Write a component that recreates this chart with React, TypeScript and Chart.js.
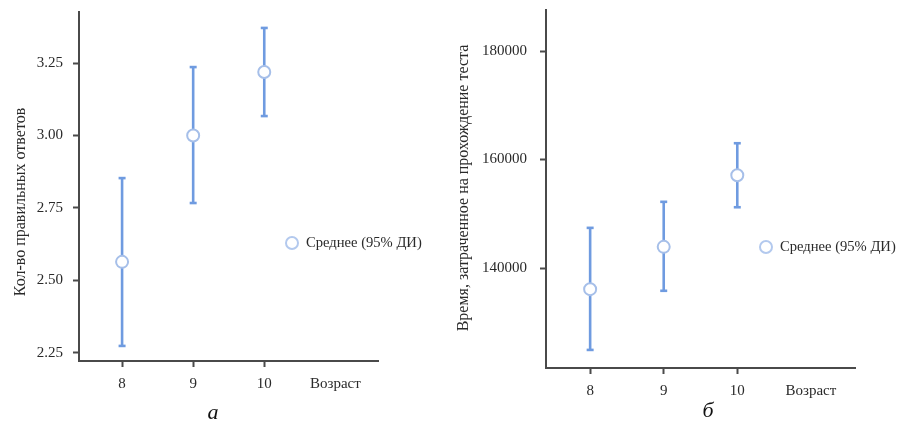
import React, { useEffect, useRef } from "react";
import { Chart, registerables } from "chart.js";

Chart.register(...registerables);

// ---------- data ----------
const ages = [8, 9, 10];
const countMean = [2.564, 3.0, 3.219];
const countLower = [2.274, 2.767, 3.067];
const countUpper = [2.853, 3.236, 3.371];
const countTicks = [2.25, 2.5, 2.75, 3.0, 3.25];

const timeMean = [136100, 143900, 157100];
const timeLower = [124900, 135800, 151200];
const timeUpper = [147400, 152200, 163000];
const timeTicks = [140000, 160000, 180000];

const xTickValues = [8, 9, 10, 11];
const xAxisLabel = "Возраст";
const legendLabel = "Среднее (95% ДИ)";
const countTitle = "Кол-во правильных ответов";
const timeTitle = "Время, затраченное на прохождение теста";

const FONT = "'Liberation Serif', 'DejaVu Serif', serif";
const BAR = "#6f9be0";
const PT = "#a6bfe9";
const AXIS = "#4a4a4a";
const TXT = "#2a2a2a";

type Cfg = {
  mean: number[];
  lower: number[];
  upper: number[];
  yTicks: number[];
  yMin: number;
  yMax: number;
  xMin: number;
  xMax: number;
  yFmt: (v: number) => string;
  title: string;
  titleX: number;
  titleY: number;
  yWidth: number;
  xHeight: number;
  padTop: number;
  padRight: number;
  tickPad: number;
  legendX: number;
  legendY: number;
  panelLabel: string;
  panelX: number;
  panelY: number;
};

const overlayPlugin = {
  id: "overlay",
  afterDraw(chart: any, _args: any, opts: any) {
    const ctx = chart.ctx;
    ctx.save();
    // y axis title
    ctx.save();
    ctx.translate(opts.titleX, opts.titleY);
    ctx.rotate(-Math.PI / 2);
    ctx.fillStyle = TXT;
    ctx.font = `16px ${FONT}`;
    ctx.textAlign = "center";
    ctx.textBaseline = "middle";
    ctx.fillText(opts.title, 0, 0);
    ctx.restore();
    // legend
    ctx.beginPath();
    ctx.arc(opts.legendX, opts.legendY, 6, 0, Math.PI * 2);
    ctx.fillStyle = "#ffffff";
    ctx.fill();
    ctx.lineWidth = 2;
    ctx.strokeStyle = "#b3c9ee";
    ctx.stroke();
    ctx.fillStyle = TXT;
    ctx.font = `14.6px ${FONT}`;
    ctx.textBaseline = "middle";
    ctx.textAlign = "left";
    ctx.fillText(legendLabel, opts.legendX + 14, opts.legendY);
    // panel label
    ctx.font = `italic 22px ${FONT}`;
    ctx.textAlign = "center";
    ctx.textBaseline = "alphabetic";
    ctx.fillStyle = "#111";
    ctx.fillText(opts.panelLabel, opts.panelX, opts.panelY);
    ctx.restore();
  },
};

function buildConfig(c: Cfg): any {
  const barData: any[] = [];
  ages.forEach((a, i) => {
    barData.push({ x: a, y: c.lower[i] });
    barData.push({ x: a, y: c.upper[i] });
    barData.push({ x: a + 0.5, y: null });
  });
  return {
    type: "scatter",
    data: {
      datasets: [
        {
          label: "ci",
          data: barData,
          showLine: true,
          spanGaps: false,
          borderColor: BAR,
          borderWidth: 2.6,
          pointStyle: "line",
          pointRadius: 3.5,
          pointBorderColor: BAR,
          pointBorderWidth: 2.6,
          order: 2,
        },
        {
          label: "mean",
          data: ages.map((a, i) => ({ x: a, y: c.mean[i] })),
          pointRadius: 6,
          pointBackgroundColor: "#ffffff",
          pointBorderColor: PT,
          pointBorderWidth: 2,
          order: 1,
        },
      ],
    },
    options: {
      responsive: false,
      animation: false,
      devicePixelRatio: 1,
      layout: { padding: { top: c.padTop, right: c.padRight, left: 0, bottom: 0 } },
      plugins: {
        legend: { display: false },
        tooltip: { enabled: false },
        overlay: {
          legendX: c.legendX,
          legendY: c.legendY,
          panelLabel: c.panelLabel,
          panelX: c.panelX,
          panelY: c.panelY,
          title: c.title,
          titleX: c.titleX,
          titleY: c.titleY,
        },
      },
      scales: {
        x: {
          type: "linear",
          position: "bottom",
          min: c.xMin,
          max: c.xMax,
          afterBuildTicks: (s: any) => {
            s.ticks = xTickValues.map((v) => ({ value: v }));
          },
          afterFit: (s: any) => {
            s.height = c.xHeight;
            s.paddingLeft = 0;
            s.paddingRight = 0;
            s.paddingTop = 0;
            s.paddingBottom = 0;
          },
          ticks: {
            autoSkip: false,
            maxRotation: 0,
            padding: 8,
            color: TXT,
            font: { family: FONT, size: 15 },
            callback: (v: number) => (v === 11 ? xAxisLabel : String(v)),
          },
          grid: {
            drawOnChartArea: false,
            tickLength: 6,
            tickWidth: 2,
            tickColor: (ctx: any) =>
              ctx.tick && ctx.tick.value === 11 ? "rgba(0,0,0,0)" : AXIS,
          },
          border: { color: AXIS, width: 2 },
        },
        y: {
          type: "linear",
          position: "left",
          min: c.yMin,
          max: c.yMax,
          afterBuildTicks: (s: any) => {
            s.ticks = c.yTicks.map((v) => ({ value: v }));
          },
          afterFit: (s: any) => {
            s.width = c.yWidth;
            s.paddingLeft = 0;
            s.paddingRight = 0;
            s.paddingTop = 0;
            s.paddingBottom = 0;
          },
          ticks: {
            padding: c.tickPad,
            color: TXT,
            font: { family: FONT, size: 15 },
            callback: (v: number) => c.yFmt(v),
          },
          grid: {
            drawOnChartArea: false,
            tickLength: 6,
            tickWidth: 2,
            tickColor: AXIS,
          },
          border: { color: AXIS, width: 2 },
          title: { display: false },
        },
      },
    },
    plugins: [overlayPlugin],
  };
}

const leftCfg: Cfg = {
  mean: countMean,
  lower: countLower,
  upper: countUpper,
  yTicks: countTicks,
  yMin: 2.222,
  yMax: 3.426,
  xMin: 7.394,
  xMax: 11.6,
  yFmt: (v) => v.toFixed(2),
  title: countTitle,
  titleX: 21,
  titleY: 202,
  yWidth: 79,
  xHeight: 60,
  padTop: 12,
  padRight: 62,
  tickPad: 10,
  legendX: 292,
  legendY: 243,
  panelLabel: "а",
  panelX: 213,
  panelY: 419,
};

const rightCfg: Cfg = {
  mean: timeMean,
  lower: timeLower,
  upper: timeUpper,
  yTicks: timeTicks,
  yMin: 121567,
  yMax: 187560,
  xMin: 7.4,
  xMax: 11.6,
  yFmt: (v) => String(v),
  title: timeTitle,
  titleX: 24,
  titleY: 188,
  yWidth: 106,
  xHeight: 53,
  padTop: 10,
  padRight: 43,
  tickPad: 13,
  legendX: 326,
  legendY: 247,
  panelLabel: "б",
  panelX: 268,
  panelY: 417,
};

function Panel({ cfg, left, width }: { cfg: Cfg; left: number; width: number }) {
  const ref = useRef<HTMLCanvasElement | null>(null);
  useEffect(() => {
    if (!ref.current) return;
    const chart = new Chart(ref.current, buildConfig(cfg));
    return () => chart.destroy();
  }, []);
  return (
    <canvas
      ref={ref}
      width={width}
      height={421}
      style={{ position: "absolute", left, top: 0, width, height: 421 }}
    />
  );
}

export default function App() {
  return (
    <div
      style={{
        position: "absolute",
        left: 0,
        top: 0,
        width: 898,
        height: 421,
        background: "#ffffff",
      }}
    >
      <Panel cfg={leftCfg} left={0} width={440} />
      <Panel cfg={rightCfg} left={440} width={458} />
    </div>
  );
}
